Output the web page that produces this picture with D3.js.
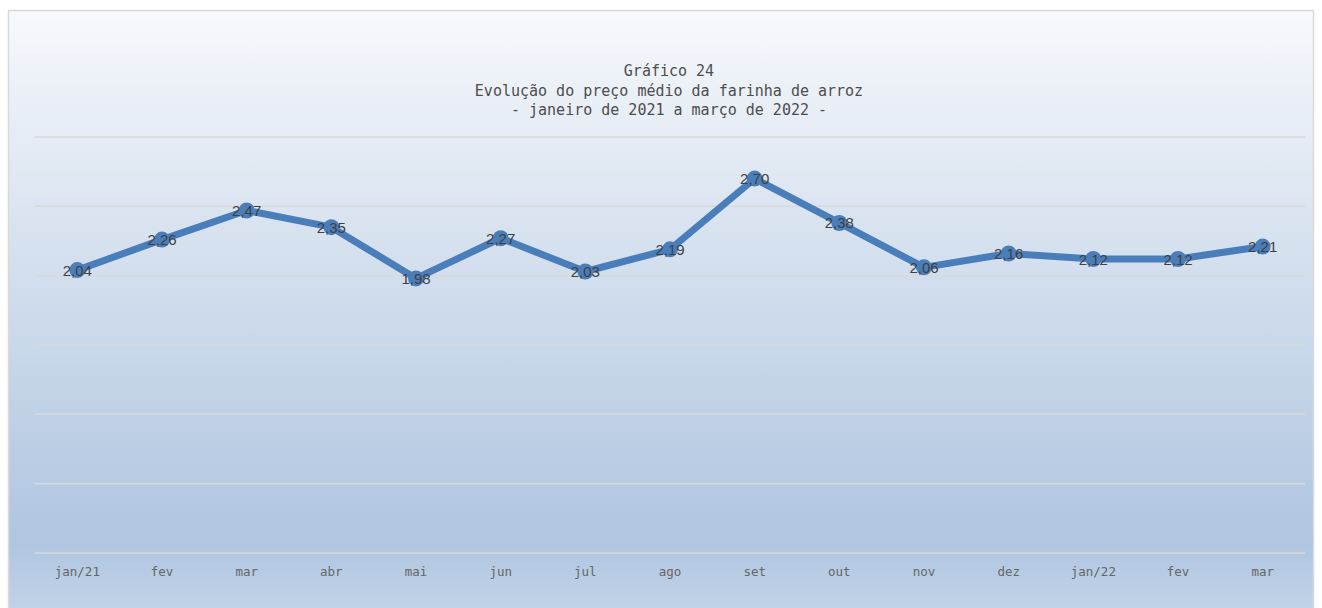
<!DOCTYPE html>
<html>
<head>
<meta charset="utf-8">
<script src="https://cdn.jsdelivr.net/npm/d3@7"></script>
<style>
  body { margin: 0; background: #fff; }
</style>
</head>
<body>
<div id="grafico"></div>
<script>
// dados do gráfico
var meses = ["jan/21", "fev", "mar", "abr", "mai", "jun", "jul", "ago", "set", "out", "nov", "dez", "jan/22", "fev", "mar"];
var precos = [2.04, 2.26, 2.47, 2.35, 1.98, 2.27, 2.03, 2.19, 2.70, 2.38, 2.06, 2.16, 2.12, 2.12, 2.21];
var yTicks = [0, 0.5, 1, 1.5, 2, 2.5, 3];
var titulo = ["Gráfico 24", "Evolução do preço médio da farinha de arroz", "- janeiro de 2021 a março de 2022 -"];

var W = 1322, H = 608;
var margin = {top: 137, right: 17, bottom: 55, left: 35};

var svg = d3.select("#grafico")
  .append("svg")
  .attr("width", W)
  .attr("height", H);

// fundo em degradê
var grad = svg.append("defs").append("linearGradient")
  .attr("id", "fundo")
  .attr("x1", 0).attr("y1", 0).attr("x2", 0).attr("y2", 1);
grad.append("stop").attr("offset", "0%").attr("stop-color", "#f7f9fc");
grad.append("stop").attr("offset", "25%").attr("stop-color", "#e1e9f3");
grad.append("stop").attr("offset", "87%").attr("stop-color", "#afc5e0");
grad.append("stop").attr("offset", "100%").attr("stop-color", "#c4d5e9");

svg.append("rect")
  .attr("x", 8.5).attr("y", 10.5)
  .attr("width", 1305).attr("height", 610)
  .attr("fill", "url(#fundo)")
  .attr("stroke", "#d9d9d9")
  .attr("stroke-width", 1.5);

// escalas
var x = d3.scaleBand()
  .domain(d3.range(meses.length))
  .range([margin.left, W - margin.right])
  .padding(0);

var y = d3.scaleLinear()
  .domain([0, 3])
  .range([H - margin.bottom, margin.top]);

// linhas de grade
svg.append("g")
  .selectAll("line")
  .data(yTicks)
  .enter()
  .append("line")
    .attr("x1", margin.left)
    .attr("x2", W - margin.right)
    .attr("y1", function(d) { return y(d); })
    .attr("y2", function(d) { return y(d); })
    .attr("stroke", "#d9d9d9")
    .attr("stroke-width", 1.5);

// eixo x
var xAxis = svg.append("g")
  .attr("transform", "translate(0," + (H - margin.bottom) + ")")
  .call(d3.axisBottom(x).tickSize(0).tickPadding(14).tickFormat(function(i) { return meses[i]; }));
xAxis.select(".domain").remove();
xAxis.selectAll("text")
  .style("font-family", "'DejaVu Sans Mono', monospace")
  .style("font-size", "12.5px")
  .attr("fill", "#666666");

// título
svg.append("g")
  .selectAll("text")
  .data(titulo)
  .enter()
  .append("text")
    .attr("x", 669)
    .attr("y", function(d, i) { return 76 + i * 19.5; })
    .attr("text-anchor", "middle")
    .style("font-family", "'DejaVu Sans Mono', monospace")
    .style("font-size", "15px")
    .attr("fill", "#4d4d4d")
    .text(function(d) { return d; });

// linha
var cx = function(d, i) { return x(i) + x.bandwidth() / 2; };
var linha = d3.line()
  .x(cx)
  .y(function(d) { return y(d); });

svg.append("path")
  .datum(precos)
  .attr("d", linha)
  .attr("fill", "none")
  .attr("stroke", "#4a7ebb")
  .attr("stroke-width", 7)
  .attr("stroke-linejoin", "round");

svg.append("g")
  .selectAll("circle")
  .data(precos)
  .enter()
  .append("circle")
    .attr("cx", cx)
    .attr("cy", function(d) { return y(d); })
    .attr("r", 8)
    .attr("fill", "#4a7ebb");

// rótulos de dados
svg.append("g")
  .selectAll("text")
  .data(precos)
  .enter()
  .append("text")
    .attr("x", cx)
    .attr("y", function(d) { return y(d) + 5.5; })
    .attr("text-anchor", "middle")
    .style("font-family", "'Liberation Sans', Arial, sans-serif")
    .style("font-size", "15px")
    .style("word-spacing", "2px")
    .attr("fill", "#404040")
    .text(function(d) { return d.toFixed(2).replace(".", ","); });
</script>
</body>
</html>
